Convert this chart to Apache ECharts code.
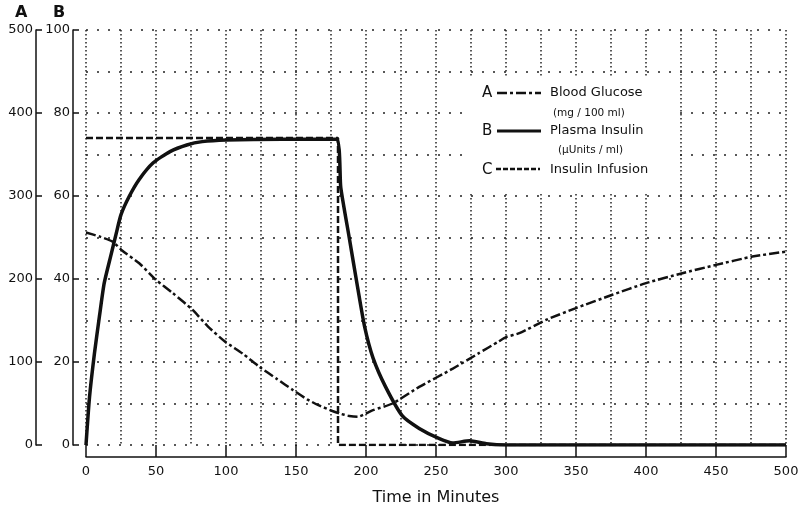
<!DOCTYPE html>
<html>
<head>
<meta charset="utf-8">
<script src="https://cdn.jsdelivr.net/npm/echarts@6/dist/echarts.min.js"></script>
<style>
  html, body { margin: 0; padding: 0; background: #fff; }
  #main { width: 800px; height: 510px; }
</style>
</head>
<body>
<div id="main"></div>
<script>
// A: blood glucose (mg/100 ml)
var glucoseT = [0, 10, 19, 26, 38, 50, 62, 76, 87, 99, 112, 124, 136, 148, 158, 166, 176, 181, 188, 194, 205, 219, 238, 262, 280, 295, 300, 310, 329, 350, 376, 400, 426, 450, 476, 500];
var glucoseV = [256, 251, 245, 234, 219, 199, 183, 163, 143, 125, 110, 94, 80, 66, 55, 48, 41, 38, 35, 34, 42, 50, 70, 92, 110, 125, 130, 135, 151, 165, 181, 195, 207, 217, 227, 233];

// B: plasma insulin (uUnits/ml)
var insulinT = [0, 2.5, 6, 9.6, 13, 18, 21.6, 25, 31, 38, 48, 60, 72, 83, 100, 140, 178.7, 182, 188, 194, 199, 205, 214, 226, 238, 252, 262, 274, 286, 300, 400, 500];
var insulinV = [0, 11.5, 22, 31, 39, 46, 51, 55.5, 60, 64, 68, 70.7, 72.3, 73.1, 73.5, 73.7, 73.7, 62, 50, 38, 28.5, 21, 14, 7, 4, 1.6, 0.5, 1, 0.3, 0, 0, 0];

// C: insulin infusion (same scale as B)
var infusionT = [0, 180, 180, 500];
var infusionV = [74, 74, 0, 0];

var xTicks = [0, 50, 100, 150, 200, 250, 300, 350, 400, 450, 500];

function pairs(t, v) {
  var out = [];
  for (var i = 0; i < t.length; i++) out.push([t[i], v[i]]);
  return out;
}

var FONT = 'DejaVu Sans';
var myChart = echarts.init(document.getElementById('main'));

var option = {
  backgroundColor: '#fff',
  animation: false,
  grid: { left: 86, right: 14, top: 30, bottom: 65, outerBoundsMode: 'none', containLabel: false },
  xAxis: {
    type: 'value',
    min: 0,
    max: 500,
    interval: 50,
    offset: 12,
    name: 'Time in Minutes',
    nameLocation: 'middle',
    nameGap: 33,
    nameTextStyle: { fontFamily: FONT, fontSize: 16, color: '#111' },
    axisLine: { onZero: false, lineStyle: { color: '#111', width: 1.5 } },
    axisTick: { inside: true, length: 12, lineStyle: { color: '#111', width: 1.5 } },
    axisLabel: {
      margin: 8, fontFamily: FONT, fontSize: 13, color: '#111',
      formatter: function (v) { return xTicks.indexOf(v) >= 0 ? String(v) : ''; }
    },
    splitLine: { show: true, lineStyle: { color: '#222', width: 1.5, type: [1.5, 2.5] } },
    minorTick: { show: false, splitNumber: 2 },
    minorSplitLine: { show: true, lineStyle: { color: '#222', width: 1.5, type: [1.5, 2.5] } }
  },
  yAxis: [
    {
      type: 'value',
      position: 'left',
      min: 0,
      max: 500,
      interval: 100,
      offset: 50,
      axisLine: { show: true, onZero: false, lineStyle: { color: '#111', width: 1.5 } },
      axisTick: { show: true, inside: true, length: 6, lineStyle: { color: '#111', width: 1.5 } },
      axisLabel: { margin: 3, fontFamily: FONT, fontSize: 13, color: '#111' },
      splitLine: { show: true, lineStyle: { color: '#222', width: 1.5, type: [2, 9] } },
      minorTick: { show: false, splitNumber: 2 },
      minorSplitLine: { show: true, lineStyle: { color: '#222', width: 1.5, type: [2, 9] } }
    },
    {
      type: 'value',
      position: 'left',
      min: 0,
      max: 100,
      interval: 20,
      offset: 13,
      axisLine: { show: true, onZero: false, lineStyle: { color: '#111', width: 1.5 } },
      axisTick: { show: true, inside: true, length: 6, lineStyle: { color: '#111', width: 1.5 } },
      axisLabel: { margin: 3, fontFamily: FONT, fontSize: 13, color: '#111' },
      splitLine: { show: false }
    }
  ],
  series: [
    {
      name: 'Blood Glucose',
      type: 'line',
      yAxisIndex: 0,
      data: pairs(glucoseT, glucoseV),
      symbol: 'none',
      smooth: 0.2,
      lineStyle: { color: '#111', width: 2.5, type: [10, 3, 3, 3] }
    },
    {
      name: 'Plasma Insulin',
      type: 'line',
      yAxisIndex: 1,
      data: pairs(insulinT, insulinV),
      symbol: 'none',
      smooth: 0.2,
      lineStyle: { color: '#111', width: 3.5, join: 'round' }
    },
    {
      name: 'Insulin Infusion',
      type: 'line',
      yAxisIndex: 1,
      data: pairs(infusionT, infusionV),
      symbol: 'none',
      lineStyle: { color: '#111', width: 2.5, type: [7, 3] }
    }
  ],
  graphic: [
    // axis letters
    { type: 'text', left: 15, top: 5, style: { text: 'A', font: 'bold 16px ' + FONT, fill: '#111' } },
    { type: 'text', left: 53, top: 5, style: { text: 'B', font: 'bold 16px ' + FONT, fill: '#111' } },
    // legend box
    { type: 'rect', z: 100, shape: { x: 470, y: 76, width: 208, height: 116 }, style: { fill: '#fff' } },
    { type: 'text', z: 101, x: 482, y: 93, style: { text: 'A', font: '15px ' + FONT, fill: '#111', textVerticalAlign: 'middle' } },
    { type: 'line', z: 101, shape: { x1: 497, y1: 93, x2: 541, y2: 93 }, style: { stroke: '#111', lineWidth: 2.5, lineDash: [10, 3, 3, 3] } },
    { type: 'text', z: 101, x: 550, y: 93, style: { text: 'Blood Glucose', font: '13px ' + FONT, fill: '#111', textVerticalAlign: 'middle' } },
    { type: 'text', z: 101, x: 553, y: 113, style: { text: '(mg / 100 ml)', font: '10.5px ' + FONT, fill: '#111', textVerticalAlign: 'middle' } },
    { type: 'text', z: 101, x: 482, y: 131, style: { text: 'B', font: '15px ' + FONT, fill: '#111', textVerticalAlign: 'middle' } },
    { type: 'line', z: 101, shape: { x1: 497, y1: 131, x2: 541, y2: 131 }, style: { stroke: '#111', lineWidth: 3 } },
    { type: 'text', z: 101, x: 550, y: 131, style: { text: 'Plasma Insulin', font: '13px ' + FONT, fill: '#111', textVerticalAlign: 'middle' } },
    { type: 'text', z: 101, x: 558, y: 150, style: { text: '(\u03bcUnits / ml)', font: '10.5px ' + FONT, fill: '#111', textVerticalAlign: 'middle' } },
    { type: 'text', z: 101, x: 482, y: 170, style: { text: 'C', font: '15px ' + FONT, fill: '#111', textVerticalAlign: 'middle' } },
    { type: 'line', z: 101, shape: { x1: 496, y1: 169, x2: 540, y2: 169 }, style: { stroke: '#111', lineWidth: 2.5, lineDash: [5, 2] } },
    { type: 'text', z: 101, x: 550, y: 170, style: { text: 'Insulin Infusion', font: '13px ' + FONT, fill: '#111', textVerticalAlign: 'middle' } }
  ]
};

myChart.setOption(option);
</script>
</body>
</html>
